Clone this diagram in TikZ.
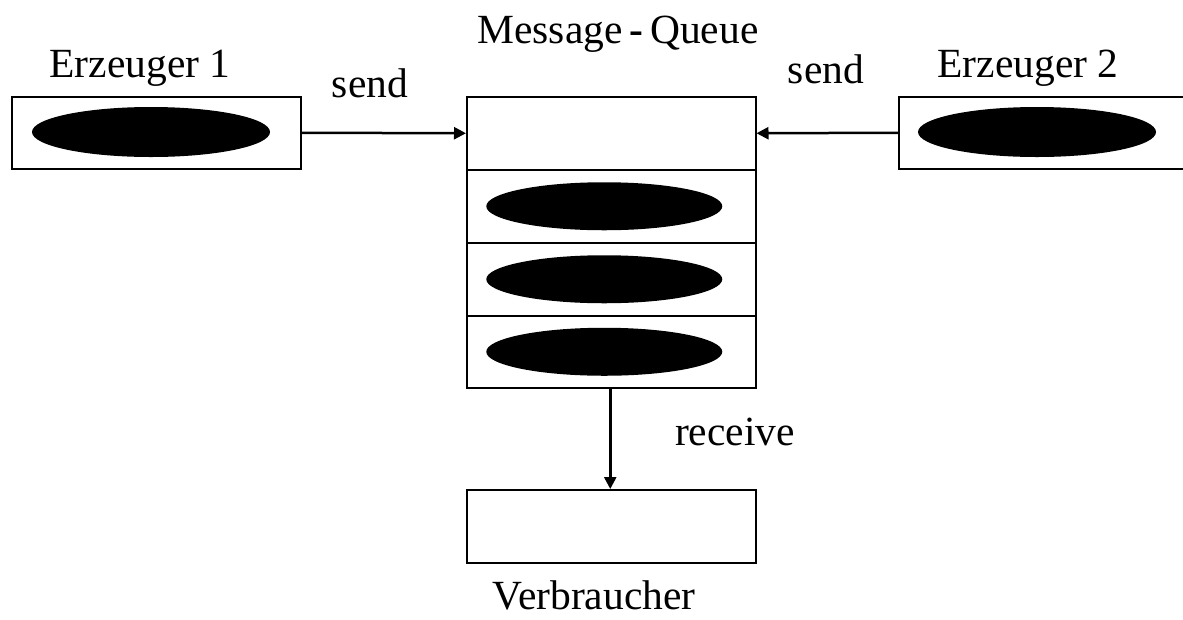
\documentclass[tikz,border=0pt]{standalone}
\usepackage{fontspec}
\setmainfont{Liberation Serif}
\usetikzlibrary{arrows.meta}
\begin{document}
\begin{tikzpicture}[x=1pt,y=-1pt,
  box/.style={draw,line width=1.5pt,minimum width=289pt,minimum height=72pt,inner sep=0pt,anchor=north west},
  slot/.style={draw,line width=1.5pt,minimum width=289pt,minimum height=73pt,inner sep=0pt,anchor=north west},
  lbl/.style={font=\fontsize{41.5}{46}\selectfont,anchor=base,inner sep=0pt},
  flow/.style={line width=2.5pt,-{Triangle[length=12pt,width=12pt]}}]
\useasboundingbox (0,0) rectangle (1183,619);
% producers
\node[box] (e1) at (11,96) {};
\node[box,minimum width=285pt] (e2) at (898,96) {};
\fill (151,132) ellipse [x radius=119, y radius=25];
\fill (1037,132) ellipse [x radius=119, y radius=25];
% message queue: head slot and three filled slots
\node[slot] (q0) at (466,96) {};
\node[slot] (q1) at (466,169) {};
\node[slot] (q2) at (466,242) {};
\node[slot,minimum height=72pt] (q3) at (466,315) {};
\fill (q1.center) ++(-7,0) ellipse [x radius=118, y radius=24];
\fill (q2.center) ++(-7,0) ellipse [x radius=118, y radius=24];
\fill (q3.center) ++(-7,0) ellipse [x radius=118, y radius=24];
% consumer
\node[slot] (v) at (466,489) {};
% connectors
\draw[flow] (e1.east) -- (q0.west);
\draw[flow] (e2.west) -- (q0.east);
\coordinate (qout) at ([xshift=-1pt]q3.south);
\draw[flow] (qout) -- (qout |- v.north);
% labels
\node[lbl] (t1) at (140,77) {Erzeuger 1};
\node[lbl] (t2) at (1028,77) {Erzeuger 2};
\node[lbl] (tq) at (618,43) {Message\,{\textbf{-}}\,Queue};
\node[lbl] (s1) at (370,97) {send};
\node[lbl] (s2) at (826,83) {send};
\node[lbl] (r) at (735,445) {receive};
\node[lbl] (tv) at (594,609) {Verbraucher};
\end{tikzpicture}
\end{document}
